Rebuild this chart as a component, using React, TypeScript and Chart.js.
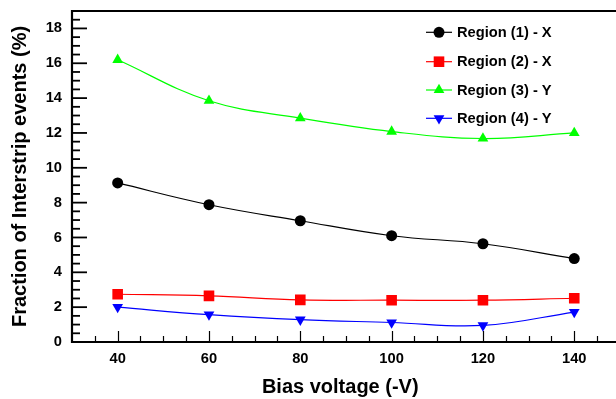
import React, { useEffect, useRef } from 'react';
import { Chart, registerables } from 'chart.js';

Chart.register(...registerables);

const biasVoltage = [40, 60, 80, 100, 120, 140];
const region1X = [9.13, 7.88, 6.96, 6.1, 5.64, 4.79];
const region2X = [2.74, 2.65, 2.42, 2.4, 2.4, 2.51];
const region3Y = [16.2, 13.85, 12.85, 12.08, 11.68, 12.0];
const region4Y = [2.0, 1.57, 1.28, 1.12, 0.95, 1.72];
const seriesLabels = ['Region (1) - X', 'Region (2) - X', 'Region (3) - Y', 'Region (4) - Y'];
const seriesColors = ['#000000', '#ff0000', '#00ff00', '#0000ff'];
const xMajorTicks = [40, 60, 80, 100, 120, 140];
const yMajorTicks = [0, 2, 4, 6, 8, 10, 12, 14, 16, 18];
const xTitle = 'Bias voltage (-V)';
const yTitle = 'Fraction of Interstrip events (%)';

const FONT = "'Liberation Sans', Arial, Helvetica, sans-serif";

function drawMarker(ctx: CanvasRenderingContext2D, kind: string, x: number, y: number, color: string) {
  ctx.fillStyle = color;
  ctx.beginPath();
  if (kind === 'circle') {
    ctx.arc(x, y, 5.5, 0, Math.PI * 2);
  } else if (kind === 'rect') {
    ctx.rect(x - 5.3, y - 5.3, 10.6, 10.6);
  } else if (kind === 'up') {
    const r = 6.2;
    ctx.moveTo(x, y - r);
    ctx.lineTo(x + r * 0.866, y + r / 2);
    ctx.lineTo(x - r * 0.866, y + r / 2);
  } else {
    const r = 6.2;
    ctx.moveTo(x, y + r);
    ctx.lineTo(x + r * 0.866, y - r / 2);
    ctx.lineTo(x - r * 0.866, y - r / 2);
  }
  ctx.closePath();
  ctx.fill();
}

const markerKinds = ['circle', 'rect', 'up', 'down'];

const rootPlugin = {
  id: 'rootAxes',
  afterDraw(chart: any) {
    const { ctx, chartArea: a } = chart;
    const x = chart.scales.x;
    const y = chart.scales.y;
    ctx.save();
    ctx.strokeStyle = '#000';
    // x ticks (inward)
    ctx.lineWidth = 1.2;
    for (let v = 30; v <= 150; v += 5) {
      const px = Math.round(x.getPixelForValue(v)) + 0.5;
      if (px < a.left + 2 || px > chart.width) continue;
      const major = xMajorTicks.includes(v);
      const len = major ? 11 : 6;
      ctx.beginPath();
      ctx.moveTo(px, a.bottom);
      ctx.lineTo(px, a.bottom - len);
      ctx.stroke();
    }
    // y ticks (inward)
    ctx.lineWidth = 1.8;
    for (let i = 0; i <= 38; i++) {
      const v = i * 0.5;
      const py = y.getPixelForValue(v);
      if (py > a.bottom - 2 || py < a.top + 2) continue;
      const major = yMajorTicks.includes(v);
      const len = major ? 15 : 8;
      ctx.beginPath();
      ctx.moveTo(a.left, py);
      ctx.lineTo(a.left + len, py);
      ctx.stroke();
    }
    // frame
    ctx.lineWidth = 2.2;
    ctx.beginPath();
    ctx.moveTo(chart.width, a.top);
    ctx.lineTo(a.left, a.top);
    ctx.lineTo(a.left, a.bottom);
    ctx.lineTo(chart.width, a.bottom);
    ctx.stroke();

    // legend
    const rows = [32.3, 61.7, 90, 118.3];
    ctx.font = `bold 14.7px ${FONT}`;
    ctx.textBaseline = 'middle';
    ctx.textAlign = 'left';
    chart.data.datasets.forEach((ds: any, i: number) => {
      const ry = rows[i];
      ctx.strokeStyle = ds.borderColor;
      ctx.lineWidth = 1.2;
      ctx.beginPath();
      ctx.moveTo(426, ry);
      ctx.lineTo(452, ry);
      ctx.stroke();
      drawMarker(ctx, markerKinds[i], 439, ry, ds.borderColor);
      ctx.fillStyle = '#000';
      ctx.fillText(ds.label, 457, ry + 0.5);
    });
    ctx.restore();
  },
};

function zeroPad(s: any) {
  s.paddingLeft = 0;
  s.paddingRight = 0;
  s.paddingTop = 0;
  s.paddingBottom = 0;
}

export default function App() {
  const ref = useRef<HTMLCanvasElement | null>(null);
  useEffect(() => {
    document.body.style.margin = '0';
    const series = [region1X, region2X, region3Y, region4Y];
    const pointStyles: any[] = ['circle', 'rect', 'triangle', 'triangle'];
    const radii = [5.5, 7.5, 6.2, 6.2];
    const rotations = [0, 0, 0, 180];
    const chart = new Chart(ref.current as HTMLCanvasElement, {
      type: 'line',
      data: {
        datasets: series.map((vals, i) => ({
          label: seriesLabels[i],
          data: biasVoltage.map((v, j) => ({ x: v, y: vals[j] })),
          borderColor: seriesColors[i],
          backgroundColor: seriesColors[i],
          borderWidth: 1.2,
          pointStyle: pointStyles[i],
          pointRadius: radii[i],
          pointRotation: rotations[i],
          pointBorderWidth: 0,
          tension: 0.4,
          fill: false,
        })),
      },
      options: {
        animation: false,
        responsive: false,
        devicePixelRatio: 1,
        layout: { padding: { top: 11, right: 0, left: 0, bottom: 0 } },
        plugins: { legend: { display: false }, tooltip: { enabled: false } },
        scales: {
          x: {
            type: 'linear',
            min: 30,
            max: 147.5,
            grid: { display: false, drawTicks: false },
            border: { display: false },
            afterBuildTicks: (s: any) => {
              s.ticks = xMajorTicks.map((v) => ({ value: v }));
            },
            afterFit: (s: any) => {
              s.height = 57;
              zeroPad(s);
            },
            ticks: {
              padding: 8,
              color: '#000',
              maxRotation: 0,
              autoSkip: false,
              font: { family: FONT, size: 14.7, weight: 'bold' },
            },
            title: {
              display: true,
              text: xTitle,
              color: '#000',
              padding: { top: 0, bottom: 0 },
              font: { family: FONT, size: 20, weight: 'bold' },
            },
          },
          y: {
            type: 'linear',
            min: 0,
            max: 19,
            grid: { display: false, drawTicks: false },
            border: { display: false },
            afterBuildTicks: (s: any) => {
              s.ticks = yMajorTicks.map((v) => ({ value: v }));
            },
            afterFit: (s: any) => {
              s.width = 72;
              zeroPad(s);
            },
            ticks: {
              padding: 10,
              color: '#000',
              autoSkip: false,
              font: { family: FONT, size: 14.7, weight: 'bold' },
            },
            title: {
              display: true,
              text: yTitle,
              color: '#000',
              padding: { top: 8, bottom: 0 },
              font: { family: FONT, size: 20, weight: 'bold' },
            },
          },
        },
      },
      plugins: [rootPlugin],
    });
    return () => chart.destroy();
  }, []);
  return (
    <div style={{ width: 616, height: 399 }}>
      <canvas ref={ref} width={616} height={399} />
    </div>
  );
}
